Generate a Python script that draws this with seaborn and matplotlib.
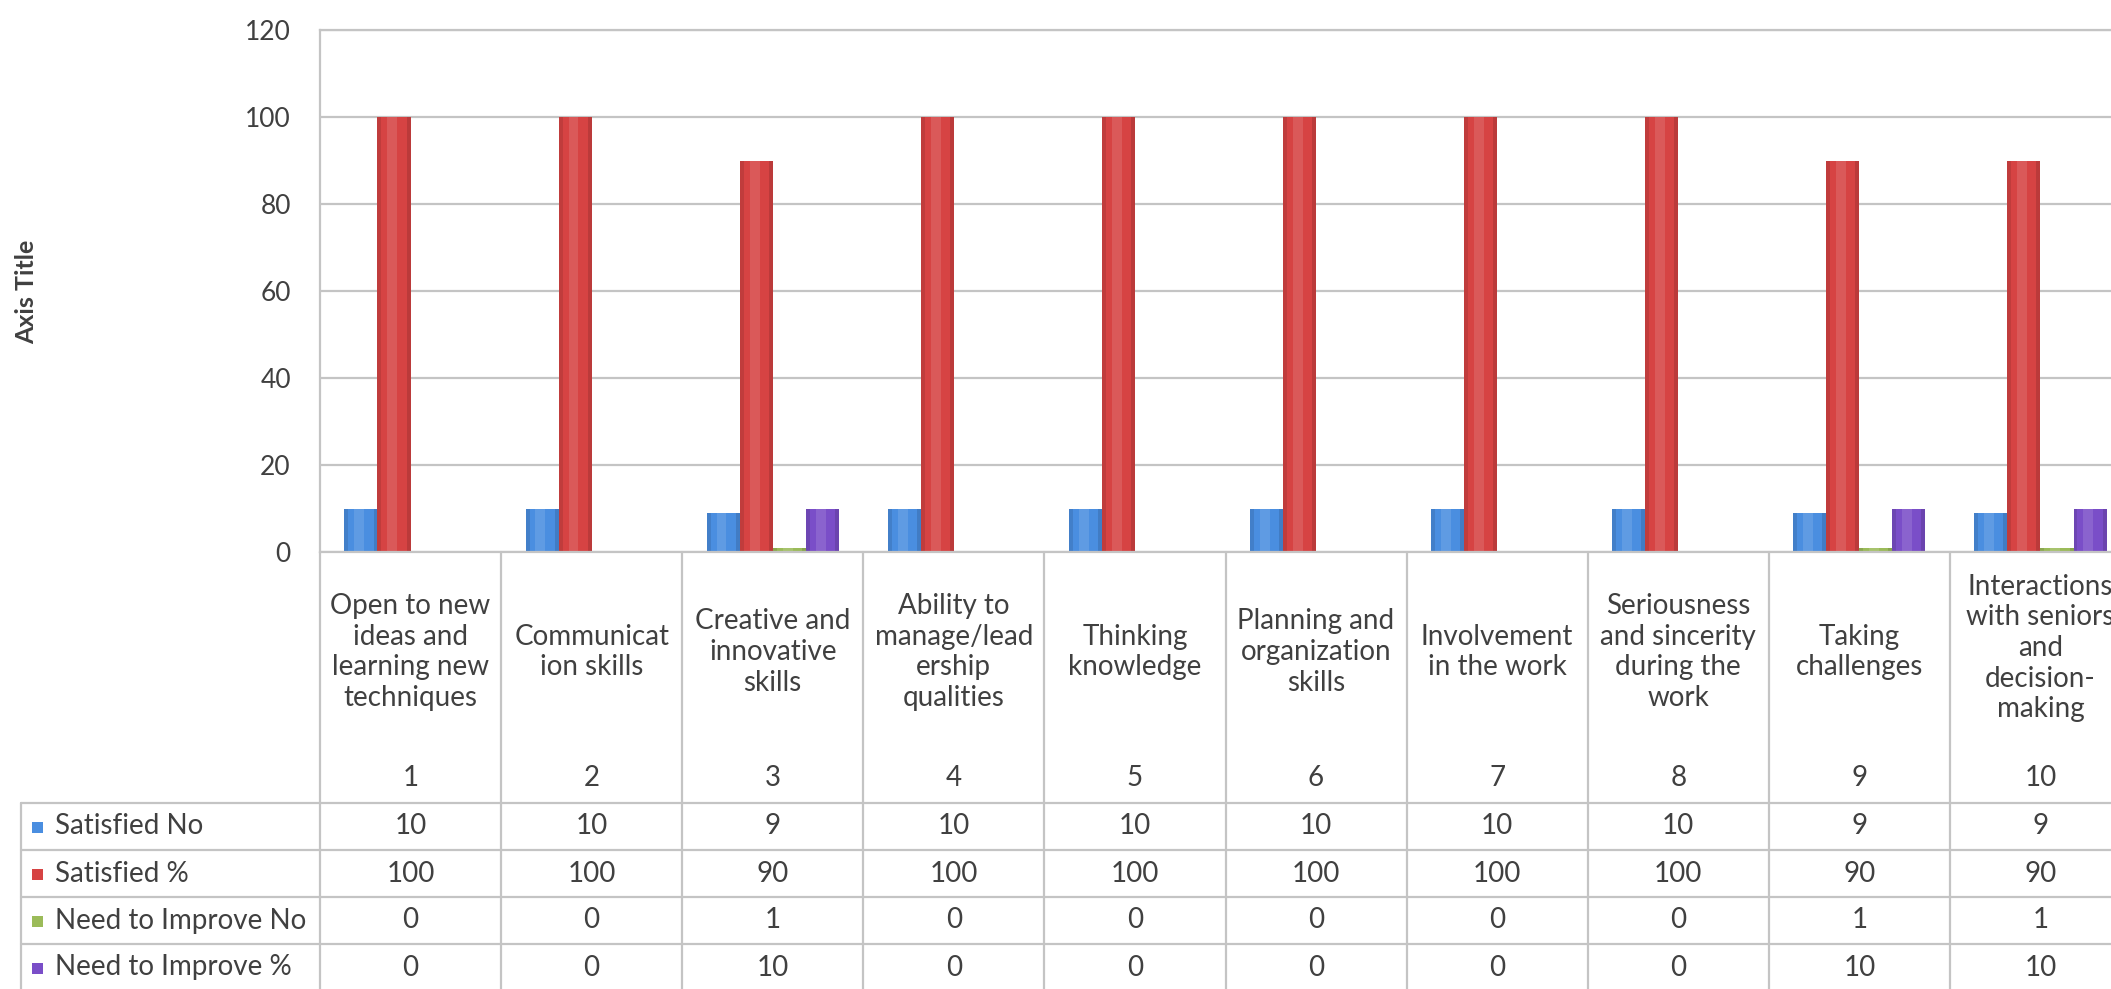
import matplotlib
matplotlib.use("Agg")
import matplotlib.pyplot as plt
import matplotlib.transforms as mtransforms
from matplotlib.lines import Line2D
from matplotlib.patches import Rectangle
import seaborn as sns
import pandas as pd

# ---------------- data ----------------
category_labels = [
    "Open to new\nideas and\nlearning new\ntechniques",
    "Communicat\nion skills",
    "Creative and\ninnovative\nskills",
    "Ability to\nmanage/lead\nership\nqualities",
    "Thinking\nknowledge",
    "Planning and\norganization\nskills",
    "Involvement\nin the work",
    "Seriousness\nand sincerity\nduring the\nwork",
    "Taking\nchallenges",
    "Interactions\nwith seniors\nand\ndecision-\nmaking",
]
category_numbers = ["1", "2", "3", "4", "5", "6", "7", "8", "9", "10"]
series_names = ["Satisfied No", "Satisfied %", "Need to Improve No", "Need to Improve %"]
satisfied_no = [10, 10, 9, 10, 10, 10, 10, 10, 9, 9]
satisfied_pct = [100, 100, 90, 100, 100, 100, 100, 100, 90, 90]
improve_no = [0, 0, 1, 0, 0, 0, 0, 0, 1, 1]
improve_pct = [0, 0, 10, 0, 0, 0, 0, 0, 10, 10]
y_ticks = [0, 20, 40, 60, 80, 100, 120]
y_title = "Axis Title"

series_values = [satisfied_no, satisfied_pct, improve_no, improve_pct]
colors = ["#4a8ee0", "#d64343", "#9bbb59", "#7a4ec8"]

rows = []
for name, vals in zip(series_names, series_values):
    for num, v in zip(category_numbers, vals):
        rows.append({"cat": num, "series": name, "value": v})
df = pd.DataFrame(rows)

# ---------------- figure ----------------
sns.set_theme(style="white")
plt.rcParams["font.family"] = ["Lato", "DejaVu Sans"]

W, H = 2111, 989
fig = plt.figure(figsize=(W / 100, H / 100), dpi=100)
fig.patch.set_facecolor("white")

def fx(px):
    return px / W

def fy(py):
    return 1 - py / H

ax_left, ax_right, ax_top, ax_bottom = 320, 2131, 30, 552
ax = fig.add_axes([fx(ax_left), fy(ax_bottom), fx(ax_right - ax_left), (ax_bottom - ax_top) / H])

sns.barplot(data=df, x="cat", y="value", hue="series", order=category_numbers,
            hue_order=series_names, palette=colors, width=0.73, saturation=1,
            legend=False, ax=ax, linewidth=0)

# subtle highlight to mimic the shaded column look
for p in list(ax.patches):
    h = p.get_height()
    if h <= 0:
        continue
    x0, w = p.get_x(), p.get_width()
    ax.add_patch(Rectangle((x0 + w * 0.3, 0), w * 0.3, h, facecolor="white",
                           alpha=0.12, linewidth=0, zorder=p.get_zorder() + 0.1))
    ax.add_patch(Rectangle((x0, 0), w * 0.12, h, facecolor="black",
                           alpha=0.10, linewidth=0, zorder=p.get_zorder() + 0.1))
    ax.add_patch(Rectangle((x0 + w * 0.88, 0), w * 0.12, h, facecolor="black",
                           alpha=0.12, linewidth=0, zorder=p.get_zorder() + 0.1))

grid_c = "#c4c4c4"
text_c = "#404040"
ax.set_ylim(0, 120)
ax.set_xlim(-0.5, len(category_numbers) - 0.5)
ax.set_yticks(y_ticks)
ax.set_yticklabels([str(t) for t in y_ticks])
ax.yaxis.grid(True, color=grid_c, linewidth=1.6)
ax.xaxis.grid(False)
ax.set_axisbelow(True)
ax.set_xticks([])
ax.set_xlabel("")
ax.set_ylabel("")
ax.tick_params(axis="y", length=0, pad=21, labelsize=19, labelcolor=text_c)
for s in ["left", "bottom", "top", "right"]:
    ax.spines[s].set_color(grid_c)
    ax.spines[s].set_linewidth(1.6)

fig.text(fx(27), fy(292), y_title, rotation=90, ha="center", va="center",
         fontsize=18, fontweight="bold", color=text_c)

# ---------------- data table ----------------
blend = mtransforms.blended_transform_factory(ax.transData, fig.transFigure)
lw = 1.6
n = len(category_numbers)

# vertical column separators below the axis
for i in range(n + 1):
    fig.add_artist(Line2D([i - 0.5, i - 0.5], [fy(ax_bottom), fy(H + 5)],
                          transform=blend, color=grid_c, linewidth=lw))

row_lines = [803, 850, 897, 944, 991]
table_left = 21
for ry in row_lines:
    fig.add_artist(Line2D([fx(table_left), fx(W + 30)], [fy(ry), fy(ry)],
                          transform=fig.transFigure, color=grid_c, linewidth=lw))
fig.add_artist(Line2D([fx(table_left), fx(table_left)], [fy(803), fy(H + 5)],
                      transform=fig.transFigure, color=grid_c, linewidth=lw))

fs = 20
# category labels
for i, (lab, num) in enumerate(zip(category_labels, category_numbers)):
    nl = lab.count("\n") + 1
    cy = 652 if nl < 5 else 648
    fig.text(i, fy(cy), lab, transform=blend, ha="center", va="center",
             fontsize=fs, color=text_c, linespacing=1.22, multialignment="center")
    fig.text(i, fy(778), num, transform=blend, ha="center", va="center",
             fontsize=fs, color=text_c)

# value rows
for r, (name, vals, col) in enumerate(zip(series_names, series_values, colors)):
    cy = (row_lines[r] + row_lines[r + 1]) / 2
    fig.add_artist(Rectangle((fx(32), fy(cy + 6)), fx(11), 11 / H,
                             transform=fig.transFigure, facecolor=col, linewidth=0))
    fig.text(fx(55), fy(cy), name, ha="left", va="center", fontsize=fs, color=text_c)
    for i, v in enumerate(vals):
        fig.text(i, fy(cy), str(v), transform=blend, ha="center", va="center",
                 fontsize=fs, color=text_c)

fig.savefig("out.png", dpi=100, facecolor="white")
